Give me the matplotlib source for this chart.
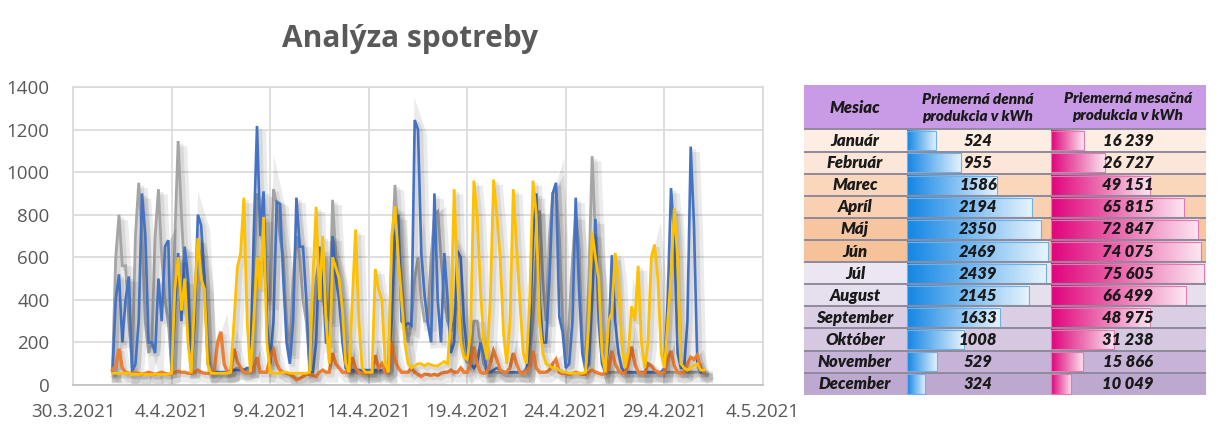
import numpy as np
import pandas as pd
import matplotlib
matplotlib.use("Agg")
import matplotlib.pyplot as plt
import matplotlib.dates as mdates
import matplotlib.patheffects as pe
from matplotlib.colors import LinearSegmentedColormap
from matplotlib.patches import Rectangle
from matplotlib.ticker import FuncFormatter

# ---------------- data: time series (4-hour samples from 1.4.2021) ----------------
blue = [
    60, 400, 520, 200, 400, 510,
    60, 100, 300, 900, 700, 200,
    200, 150, 500, 300, 650, 680,
    60, 350, 620, 300, 650, 500,
    60, 300, 800, 750, 500, 100,
    60, 60, 60, 60, 60, 60,
    70, 70, 70, 70, 70, 80,
    80, 700, 1217, 700, 910, 300,
    100, 300, 860, 850, 500, 200,
    100, 300, 880, 650, 650, 400,
    60, 60, 200, 650, 500, 200,
    200, 700, 500, 400, 200, 80,
    70, 70, 70, 70, 70, 70,
    70, 70, 70, 70, 70, 70,
    80, 300, 700, 800, 300, 280,
    290, 280, 1245, 1200, 620, 420,
    290, 200, 900, 400, 200, 620,
    400, 150, 200, 630, 600, 300,
    150, 100, 80, 100, 200, 150,
    60, 60, 70, 80, 70, 60,
    60, 60, 60, 60, 60, 60,
    60, 200, 700, 900, 400, 200,
    200, 500, 900, 950, 320, 250,
    80, 100, 300, 880, 450, 150,
    70, 100, 400, 780, 300, 100,
    60, 200, 610, 300, 150, 80,
    60, 60, 60, 60, 60, 60,
    60, 60, 60, 60, 60, 60,
    80, 400, 925, 700, 150, 80,
    80, 300, 1120, 750, 100, 60,
    60,
]
gray = [
    60, 600, 800, 560, 560, 300,
    80, 700, 950, 700, 300, 150,
    200, 700, 920, 600, 400, 300,
    80, 700, 1146, 800, 500, 300,
    80, 400, 650, 600, 500, 200,
    60, 60, 60, 60, 60, 60,
    60, 70, 80, 80, 70, 70,
    80, 500, 900, 800, 600, 400,
    400, 920, 850, 700, 600, 300,
    150, 500, 700, 600, 400, 300,
    100, 300, 500, 600, 600, 400,
    300, 870, 600, 450, 300, 150,
    60, 60, 60, 60, 60, 60,
    60, 60, 60, 60, 60, 60,
    80, 600, 940, 700, 500, 300,
    200, 300, 500, 600, 400, 300,
    300, 600, 800, 815, 600, 400,
    300, 250, 300, 400, 300, 150,
    100, 150, 300, 300, 200, 100,
    60, 60, 60, 60, 60, 60,
    60, 60, 60, 60, 60, 60,
    80, 150, 300, 600, 820, 500,
    300, 700, 900, 930, 700, 300,
    100, 300, 590, 800, 650, 200,
    100, 500, 1075, 700, 400, 150,
    60, 60, 60, 60, 60, 60,
    60, 60, 60, 60, 60, 60,
    60, 60, 60, 60, 60, 60,
    60, 60, 60, 60, 60, 60,
    60, 60, 60, 60, 60, 60,
    60,
]
yellow = [
    55, 55, 55, 55, 55, 55,
    50, 50, 50, 50, 50, 50,
    50, 50, 50, 50, 50, 50,
    55, 450, 600, 350, 500, 200,
    55, 400, 690, 500, 450, 100,
    55, 55, 55, 55, 55, 55,
    60, 300, 550, 620, 880, 300,
    60, 300, 600, 450, 790, 200,
    60, 55, 55, 55, 60, 60,
    55, 55, 55, 55, 55, 55,
    60, 500, 837, 400, 700, 300,
    100, 600, 550, 500, 350, 100,
    60, 400, 730, 300, 80, 60,
    60, 60, 545, 450, 400, 100,
    60, 700, 840, 600, 400, 200,
    100, 80, 90, 100, 100, 90,
    100, 95, 90, 90, 100, 110,
    100, 300, 920, 500, 200, 130,
    120, 250, 960, 800, 450, 200,
    120, 400, 965, 800, 600, 250,
    100, 300, 920, 650, 400, 150,
    100, 400, 960, 800, 300, 150,
    100, 90, 80, 80, 70, 60,
    60, 55, 55, 55, 55, 55,
    60, 300, 720, 600, 500, 150,
    60, 300, 340, 620, 500, 200,
    80, 150, 370, 300, 560, 200,
    80, 200, 600, 660, 500, 150,
    80, 300, 510, 830, 600, 100,
    80, 70, 80, 90, 100, 70,
    70,
]
orange = [
    70, 90, 170, 80, 60, 55,
    55, 60, 55, 50, 55, 60,
    55, 50, 55, 60, 55, 50,
    55, 60, 65, 60, 60, 55,
    55, 60, 70, 60, 55, 55,
    55, 70, 200, 250, 100, 60,
    60, 170, 110, 80, 60, 60,
    60, 80, 130, 60, 60, 60,
    130, 165, 100, 70, 60, 55,
    50, 40, 25, 30, 40, 50,
    50, 45, 40, 60, 70, 60,
    60, 150, 100, 80, 60, 60,
    60, 130, 80, 60, 55, 55,
    55, 60, 140, 80, 100, 60,
    60, 200, 120, 80, 60, 60,
    60, 80, 60, 50, 40, 50,
    50, 45, 50, 45, 55, 60,
    60, 70, 60, 60, 80, 60,
    60, 100, 180, 100, 60, 55,
    60, 100, 160, 120, 70, 60,
    60, 80, 150, 100, 60, 55,
    60, 90, 160, 80, 60, 60,
    60, 70, 100, 120, 60, 55,
    55, 50, 55, 60, 55, 50,
    50, 60, 70, 60, 55, 50,
    55, 80, 160, 100, 70, 55,
    55, 100, 180, 100, 60, 55,
    55, 100, 90, 70, 60, 55,
    60, 120, 160, 90, 60, 55,
    60, 100, 130, 120, 140, 80,
    60,
]
y_ticks = [0, 200, 400, 600, 800, 1000, 1200, 1400]

# ---------------- data: table ----------------
months = ["Január", "Február", "Marec", "Apríl", "Máj", "Jún", "Júl",
          "August", "September", "Október", "November", "December"]
daily = [524, 955, 1586, 2194, 2350, 2469, 2439, 2145, 1633, 1008, 529, 324]
monthly = [16239, 26727, 49151, 65815, 72847, 74075, 75605, 66499, 48975, 31238, 15866, 10049]
header = ["Mesiac", "Priemerná denná\nprodukcia v kWh", "Priemerná mesačná\nprodukcia v kWh"]
row_colors = ["#FDEDE3", "#FCE6D9", "#FAD6BB", "#F9D0B1", "#F7C6A1", "#F6C29A",
              "#ECE6F2", "#E6DFED", "#DACEE4", "#D5C8E0", "#C6B3D7", "#BDA8CF"]

# ---------------- figure ----------------
W, H = 1220, 436
fig = plt.figure(figsize=(W / 100, H / 100), dpi=100)
fig.patch.set_facecolor("white")

TXT = "#595959"
GRID = "#D9D9D9"

ax = fig.add_axes([73 / W, 1 - 385 / H, 690 / W, 298 / H])
times = pd.date_range("2021-04-01 00:00", periods=len(blue), freq="4h")

shadow = [pe.SimpleLineShadow(offset=(3, -4), shadow_color="black", alpha=0.08, linewidth=7),
          pe.SimpleLineShadow(offset=(2, -2), shadow_color="black", alpha=0.08, linewidth=3.5),
          pe.Normal()]
for vals, col, lw in [(gray, "#A5A5A5", 2.0), (blue, "#4472C4", 1.9),
                      (orange, "#ED7D31", 2.4), (yellow, "#FFC000", 2.0)]:
    ax.plot(times, vals, color=col, lw=lw, path_effects=shadow, solid_joinstyle="miter")

ax.set_ylim(0, 1400)
ax.set_yticks(y_ticks)
xt = pd.date_range("2021-03-30", "2021-05-04", freq="5D")
ax.set_xlim(xt[0], xt[-1])
ax.set_xticks(xt)
ax.xaxis.set_major_formatter(FuncFormatter(
    lambda v, p: (lambda d: f"{d.day}.{d.month}.{d.year}")(mdates.num2date(v))))
ax.grid(True, color=GRID, lw=1.2)
ax.set_axisbelow(True)
for s in ax.spines.values():
    s.set_color(GRID)
    s.set_linewidth(1.2)
ax.spines["bottom"].set_color("#BFBFBF")
ax.tick_params(length=0, labelsize=13.5, labelcolor=TXT)
ax.tick_params(axis="y", pad=17)
ax.tick_params(axis="x", pad=13)
for lab in ax.get_xticklabels() + ax.get_yticklabels():
    lab.set_family("Open Sans")

fig.text(410 / W, 1 - 47 / H, "Analýza spotreby", ha="center", va="baseline",
         fontsize=21.5, fontweight="bold", color=TXT, family="Open Sans")

# ---------------- table (pixel coordinate overlay) ----------------
tx = fig.add_axes([0, 0, 1, 1], zorder=5)
tx.set_xlim(0, W)
tx.set_ylim(H, 0)
tx.axis("off")
tx.patch.set_alpha(0)

x0, xa, xb, x1 = 804, 906, 1050, 1206
hy0, hy1 = 85, 129.5
rh = 22.1
fnt = dict(family="Lato", style="italic", fontweight="heavy", color="#1A1A1A")
FS = 12

tx.add_patch(Rectangle((x0, hy0), x1 - x0, hy1 - hy0, facecolor="#C99BE6", edgecolor="none"))
tx.text((x0 + xa) / 2, (hy0 + hy1) / 2 + 1, header[0], ha="center", va="center", fontsize=FS, **fnt)
tx.text((xa + xb) / 2, (hy0 + hy1) / 2 + 1, header[1], ha="center", va="center", fontsize=11,
        linespacing=1.4, **fnt)
tx.text((xb + x1) / 2, (hy0 + hy1) / 2, header[2], ha="center", va="center", fontsize=11,
        linespacing=1.4, **fnt)

cm_blue = LinearSegmentedColormap.from_list("b", ["#1286E4", "#7DBDF2", "#E8F4FD"])
cm_pink = LinearSegmentedColormap.from_list("p", ["#E0037C", "#EC72B2", "#FCE6F2"])
grad = np.linspace(0, 1, 256).reshape(1, -1)

dmax, mmax = max(daily), max(monthly)
for i, (m, dv, mv, rc) in enumerate(zip(months, daily, monthly, row_colors)):
    ry0 = hy1 + i * rh
    ry1 = ry0 + rh
    tx.add_patch(Rectangle((x0, ry0), x1 - x0, rh, facecolor=rc, edgecolor="none", zorder=1))
    # daily bar
    bw = dv / dmax * (xb - xa - 3)
    tx.imshow(grad, cmap=cm_blue, aspect="auto", extent=(xa + 0.5, xa + 0.5 + bw, ry1 - 1.2, ry0 + 1.8),
              zorder=2, interpolation="bilinear")
    tx.add_patch(Rectangle((xa + 0.5, ry0 + 1.8), bw, rh - 3, facecolor="none",
                           edgecolor="#6FB0E6", lw=0.8, zorder=3))
    # monthly bar
    mw = mv / mmax * (x1 - xb - 3)
    tx.imshow(grad, cmap=cm_pink, aspect="auto", extent=(xb + 1, xb + 1 + mw, ry1 - 1.2, ry0 + 1.8),
              zorder=2, interpolation="bilinear")
    tx.add_patch(Rectangle((xb + 1, ry0 + 1.8), mw, rh - 3, facecolor="none",
                           edgecolor="#E07AB0", lw=0.8, zorder=3))
    cy = (ry0 + ry1) / 2 + 0.5
    tx.text((x0 + xa) / 2, cy, m, ha="center", va="center", fontsize=FS, zorder=4, **fnt)
    tx.text((xa + xb) / 2, cy, f"{dv}", ha="center", va="center", fontsize=FS, zorder=4, **fnt)
    tx.text((xb + x1) / 2, cy, f"{mv:,}".replace(",", " "), ha="center", va="center",
            fontsize=FS, zorder=4, **fnt)
    tx.plot([x0, x1], [ry0, ry0], color="#8E8A9C", lw=1.4, zorder=4, solid_capstyle="butt")

tx.set_xlim(0, W)
tx.set_ylim(H, 0)

fig.savefig("out.png", dpi=100, facecolor="white")
